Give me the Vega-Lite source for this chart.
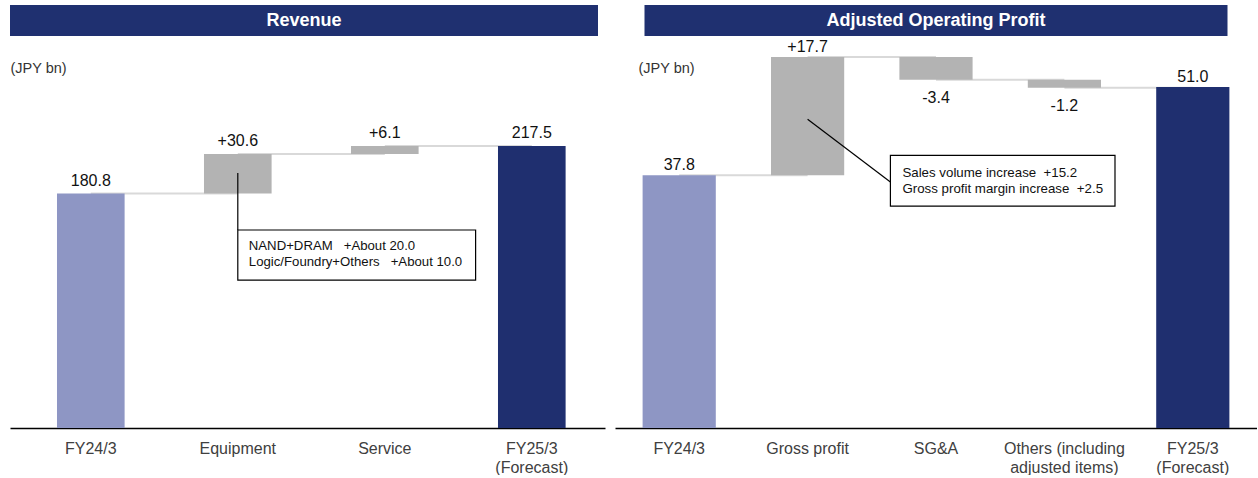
{
  "$schema": "https://vega.github.io/schema/vega-lite/v6.json",
  "background": "#ffffff",
  "padding": {"left": 10, "top": 5, "right": 0, "bottom": 0},
  "config": {
    "font": "Liberation Sans",
    "view": {"stroke": null},
    "axisX": {
      "grid": false,
      "ticks": false,
      "domainColor": "#000000",
      "domainWidth": 1.5,
      "labelAngle": 0,
      "labelFontSize": 16,
      "labelColor": "#404040",
      "labelPadding": 12,
      "labelLineHeight": 19
    },
    "axisY": {
      "grid": false,
      "domain": false,
      "ticks": false,
      "labels": false,
      "titleAngle": 0,
      "titleAlign": "left",
      "titleBaseline": "middle",
      "titleY": 29,
      "titleFontSize": 14.5,
      "titleFontWeight": "normal",
      "titleColor": "#333333",
      "titlePadding": 0
    }
  },
  "spacing": 10,
  "hconcat": [
    {
      "spacing": 3,
      "vconcat": [
        {
          "width": 588,
          "height": 31,
          "view": {"fill": "#1f3070", "stroke": null},
          "data": {"values": [{"title": "Revenue"}]},
          "mark": {"type": "text", "color": "#ffffff", "fontSize": 18, "fontWeight": "bold", "baseline": "middle", "align": "center"},
          "encoding": {"text": {"field": "title"}}
        },
        {
          "width": 595,
          "height": 389,
          "data": {
            "values": [
              {"cat": "FY24/3", "kind": "actual", "start": 0, "end": 180.8, "label": "180.8", "next": "Equipment"},
              {"cat": "Equipment", "kind": "change", "start": 180.8, "end": 211.4, "label": "+30.6", "next": "Service"},
              {"cat": "Service", "kind": "change", "start": 211.4, "end": 217.5, "label": "+6.1", "next": "FY25/3|(Forecast)"},
              {"cat": "FY25/3|(Forecast)", "kind": "forecast", "start": 0, "end": 217.5, "label": "217.5"}
            ]
          },
          "layer": [
            {
              "transform": [{"filter": "datum.next != null"}],
              "mark": {"type": "rule", "color": "#d9d9d9", "strokeWidth": 2},
              "encoding": {
                "x": {"field": "cat", "type": "nominal", "title": null},
                "x2": {"field": "next"},
                "y": {"field": "end", "type": "quantitative", "title": "(JPY bn)"}
              }
            },
            {
              "mark": {"type": "bar"},
              "encoding": {
                "x": {
                  "field": "cat", "type": "nominal", "title": null,
                  "scale": {"domain": ["FY24/3", "Equipment", "Service", "FY25/3|(Forecast)"], "paddingInner": 0.54, "paddingOuter": 0.2938, "align": 0.544},
                  "axis": {"labelExpr": "split(datum.label, '|')"}
                },
                "y": {
                  "field": "start", "type": "quantitative", "title": "(JPY bn)",
                  "scale": {"domain": [0, 300], "nice": false},
                  "axis": {"titleX": 0}
                },
                "y2": {"field": "end"},
                "color": {
                  "field": "kind", "type": "nominal", "legend": null,
                  "scale": {"domain": ["actual", "change", "forecast"], "range": ["#8e96c4", "#b3b3b3", "#1f2f6f"]}
                }
              }
            },
            {
              "transform": [{"filter": "datum.end >= datum.start"}],
              "mark": {"type": "text", "fontSize": 16, "color": "#111111", "baseline": "alphabetic", "dy": -8},
              "encoding": {
                "x": {"field": "cat", "type": "nominal", "title": null},
                "y": {"field": "end", "type": "quantitative", "title": "(JPY bn)"},
                "text": {"field": "label"}
              }
            },
            {
              "data": {"values": [{"note": ["NAND+DRAM\u00a0\u00a0\u00a0+About 20.0", "Logic/Foundry+Others\u00a0\u00a0\u00a0+About 10.0"]}]},
              "layer": [
                {
                  "mark": {"type": "rule", "color": "#000000", "strokeWidth": 1.2},
                  "encoding": {
                    "x": {"datum": "Equipment", "type": "nominal", "title": null},
                    "y": {"datum": 196.7, "type": "quantitative", "title": "(JPY bn)"},
                    "y2": {"datum": 152.7}
                  }
                },
                {
                  "mark": {"type": "rect", "fill": "#ffffff", "stroke": "#000000", "strokeWidth": 1.2, "x2Offset": 57},
                  "encoding": {
                    "x": {"datum": "Equipment", "type": "nominal", "title": null},
                    "x2": {"datum": "Service", "bandPosition": 1},
                    "y": {"datum": 152.7, "type": "quantitative", "title": "(JPY bn)"},
                    "y2": {"datum": 114.1}
                  }
                },
                {
                  "mark": {"type": "text", "fontSize": 13.2, "color": "#111111", "align": "left", "baseline": "alphabetic", "dx": 11, "lineHeight": 16.5},
                  "encoding": {
                    "x": {"datum": "Equipment", "type": "nominal", "title": null},
                    "y": {"datum": 137.3, "type": "quantitative", "title": "(JPY bn)"},
                    "text": {"field": "note"}
                  }
                }
              ]
            }
          ]
        }
      ]
    },
    {
      "spacing": 3,
      "center": true,
      "vconcat": [
        {
          "width": 583,
          "height": 31,
          "view": {"fill": "#1f3070", "stroke": null},
          "data": {"values": [{"title": "Adjusted Operating Profit"}]},
          "mark": {"type": "text", "color": "#ffffff", "fontSize": 18, "fontWeight": "bold", "baseline": "middle", "align": "center"},
          "encoding": {"text": {"field": "title"}}
        },
        {
          "width": 642,
          "height": 389,
          "data": {
            "values": [
              {"cat": "FY24/3", "kind": "actual", "start": 0, "end": 37.8, "label": "37.8", "next": "Gross profit"},
              {"cat": "Gross profit", "kind": "change", "start": 37.8, "end": 55.5, "label": "+17.7", "next": "SG&A"},
              {"cat": "SG&A", "kind": "change", "start": 55.5, "end": 52.1, "label": "-3.4", "next": "Others (including|adjusted items)"},
              {"cat": "Others (including|adjusted items)", "kind": "change", "start": 52.1, "end": 50.9, "label": "-1.2", "next": "FY25/3|(Forecast)"},
              {"cat": "FY25/3|(Forecast)", "kind": "forecast", "start": 0, "end": 51.0, "label": "51.0"}
            ]
          },
          "layer": [
            {
              "transform": [{"filter": "datum.next != null"}],
              "mark": {"type": "rule", "color": "#d9d9d9", "strokeWidth": 2},
              "encoding": {
                "x": {"field": "cat", "type": "nominal", "title": null},
                "x2": {"field": "next"},
                "y": {"field": "end", "type": "quantitative", "title": "(JPY bn)"}
              }
            },
            {
              "mark": {"type": "bar"},
              "encoding": {
                "x": {
                  "field": "cat", "type": "nominal", "title": null,
                  "scale": {"domain": ["FY24/3", "Gross profit", "SG&A", "Others (including|adjusted items)", "FY25/3|(Forecast)"], "paddingInner": 0.43, "paddingOuter": 0.215},
                  "axis": {"labelExpr": "split(datum.label, '|')"}
                },
                "y": {
                  "field": "start", "type": "quantitative", "title": "(JPY bn)",
                  "scale": {"domain": [0, 58.2], "nice": false},
                  "axis": {"titleX": 23}
                },
                "y2": {"field": "end"},
                "color": {
                  "field": "kind", "type": "nominal", "legend": null,
                  "scale": {"domain": ["actual", "change", "forecast"], "range": ["#8e96c4", "#b3b3b3", "#1f2f6f"]}
                }
              }
            },
            {
              "transform": [{"filter": "datum.end >= datum.start"}],
              "mark": {"type": "text", "fontSize": 16, "color": "#111111", "baseline": "alphabetic", "dy": -5},
              "encoding": {
                "x": {"field": "cat", "type": "nominal", "title": null},
                "y": {"field": "end", "type": "quantitative", "title": "(JPY bn)"},
                "text": {"field": "label"}
              }
            },
            {
              "transform": [{"filter": "datum.end < datum.start"}],
              "mark": {"type": "text", "fontSize": 16, "color": "#111111", "baseline": "top", "dy": 10},
              "encoding": {
                "x": {"field": "cat", "type": "nominal", "title": null},
                "y": {"field": "end", "type": "quantitative", "title": "(JPY bn)"},
                "text": {"field": "label"}
              }
            },
            {
              "data": {"values": [{"note": ["Sales volume increase\u00a0\u00a0+15.2", "Gross profit margin increase\u00a0\u00a0+2.5"]}]},
              "layer": [
                {
                  "mark": {"type": "rule", "color": "#000000", "strokeWidth": 1.2, "x2Offset": -9},
                  "encoding": {
                    "x": {"datum": "Gross profit", "type": "nominal", "title": null},
                    "x2": {"datum": "SG&A", "bandPosition": 0},
                    "y": {"datum": 46.2, "type": "quantitative", "title": "(JPY bn)"},
                    "y2": {"datum": 36.8}
                  }
                },
                {
                  "mark": {"type": "rect", "fill": "#ffffff", "stroke": "#000000", "strokeWidth": 1.2, "xOffset": -9, "x2Offset": 14},
                  "encoding": {
                    "x": {"datum": "SG&A", "type": "nominal", "title": null, "bandPosition": 0},
                    "x2": {"datum": "Others (including|adjusted items)", "bandPosition": 1},
                    "y": {"datum": 40.8, "type": "quantitative", "title": "(JPY bn)"},
                    "y2": {"datum": 33.2}
                  }
                },
                {
                  "mark": {"type": "text", "fontSize": 13.3, "color": "#111111", "align": "left", "baseline": "alphabetic", "dx": 3, "lineHeight": 16},
                  "encoding": {
                    "x": {"datum": "SG&A", "type": "nominal", "title": null, "bandPosition": 0},
                    "y": {"datum": 37.55, "type": "quantitative", "title": "(JPY bn)"},
                    "text": {"field": "note"}
                  }
                }
              ]
            }
          ]
        }
      ]
    }
  ]
}
